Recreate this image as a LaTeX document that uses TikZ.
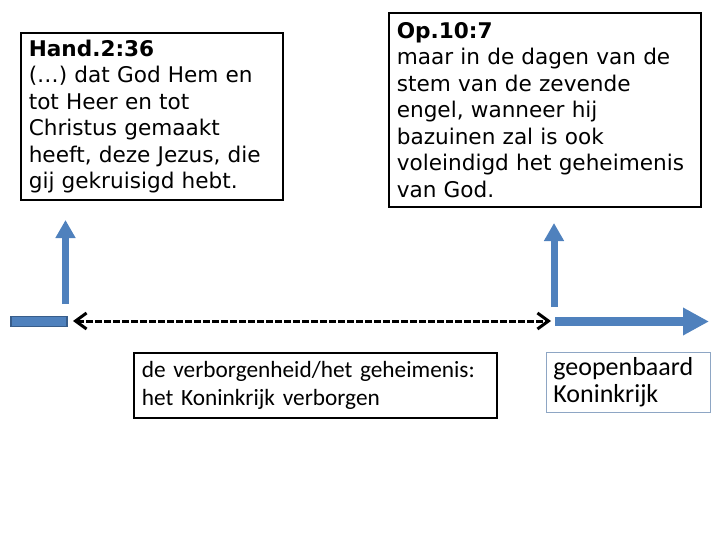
\documentclass[tikz,border=0pt]{standalone}
\usepackage{fontspec}
\setmainfont{DejaVu Sans}
\newfontfamily\calibfont{Carlito}
\usetikzlibrary{arrows.meta,positioning}
\definecolor{ppblue}{HTML}{4F81BD}
\definecolor{ppdark}{HTML}{385D8A}
\definecolor{ppframe}{HTML}{8EA6C4}

\begin{document}
\begin{tikzpicture}[x=1pt,y=-1pt,
textbox/.style={draw=black, line width=1.6pt, align=left, anchor=north west,
  inner xsep=8pt, inner ysep=0pt, font=\fontsize{21.6}{26.5}\selectfont},
calibbox/.style={textbox, font=\calibfont\fontsize{23.3}{28}\selectfont},
uparrow/.style={ppblue, line width=7pt, -{Triangle[width=19pt,length=18pt]}},
timearrow/.style={ppblue, line width=9.5pt, -{Triangle[width=26pt,length=26pt]}},
hidden/.style={black, line width=3pt, dash pattern=on 6.5pt off 2.5pt,
  {Straight Barb[length=11pt,width=16pt]}-{Straight Barb[length=11pt,width=16pt]}}]
\useasboundingbox (0,0) rectangle (720,540);

% quotes
\node[textbox, text width=246pt, minimum height=167pt] (hand) at (20,32)
  {\textbf{Hand.2:36}\\(…) dat God Hem en\\tot Heer en tot\\Christus gemaakt\\heeft, deze Jezus, die\\gij gekruisigd hebt.};
\node[textbox, text width=296pt, minimum height=194pt] (op) at (388,12)
  {\textbf{Op.10:7}\\maar in de dagen van de\\stem van de zevende\\engel, wanneer hij\\bazuinen zal is ook\\voleindigd het geheimenis\\van God.};

% time line
\node[fill=ppblue, draw=ppdark, line width=1.5pt, minimum width=56pt,
  minimum height=10pt, inner sep=0pt, anchor=west] (bar) at (10,321.5) {};
\coordinate (lfoot) at (65.5,304);
\coordinate (ltip) at (65.5,220);
\coordinate (rfoot) at (554,307);
\coordinate (rtip) at (554,223);
\coordinate (dl) at (73,321);
\coordinate (dr) at (551,321);
\coordinate (tstart) at (555,321.5);
\coordinate (tend) at (709,321.5);
\draw[uparrow] (lfoot) -- (ltip);
\draw[uparrow] (rfoot) -- (rtip);
\draw[hidden] (dl) -- (dr);
\draw[timearrow] (tstart) -- (tend);

% periods
\node[calibbox, text width=347pt, minimum height=65pt] (verborgen) at (133,352)
  {de verborgenheid/het geheimenis:\\het Koninkrijk verborgen};
\node[calibbox, draw=ppframe, line width=0.8pt, inner xsep=7pt, text width=150pt,
  minimum height=60pt, font=\calibfont\fontsize{26}{27.5}\selectfont] (geopenbaard) at (546,352)
  {geopenbaard\\Koninkrijk};
\end{tikzpicture}
\end{document}
